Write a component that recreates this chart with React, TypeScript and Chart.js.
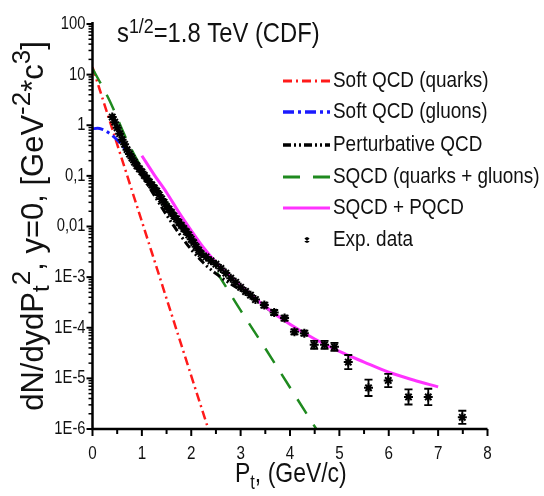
import React, { useEffect, useRef } from "react";
import { Chart, registerables } from "chart.js";
Chart.register(...registerables);

// ---- Data ----
const quarksPt = [0, 0.4, 0.8, 1.2, 1.6, 2.0, 2.4];
const quarksVal = [14.1, 0.85, 0.051, 3.1e-3, 1.86e-4, 1.12e-5, 6.8e-7];

const gluonsPt = [0, 0.1, 0.2, 0.3, 0.4, 0.5, 0.6, 0.8, 1.0, 1.2, 1.4, 1.6];
const gluonsVal = [0.85, 0.87, 0.83, 0.74, 0.63, 0.51, 0.4, 0.23, 0.126, 0.069, 0.038, 0.021];

const pqcdPt = [0.4, 0.6, 0.8, 1.0, 1.2, 1.4, 1.6, 1.8, 2.0, 2.25, 2.5, 2.75, 3.0, 3.3, 3.6];
const pqcdVal = [1.66, 0.6, 0.24, 0.105, 0.05, 0.024, 0.012, 6.3e-3, 3.5e-3, 1.9e-3, 1.17e-3, 7.9e-4, 5.6e-4, 3.5e-4, 2.2e-4];

const sqcdPt = [0, 0.34, 0.7, 1.0, 1.5, 2.0, 2.25, 2.5, 3.0, 3.5, 4.0, 4.6];
const sqcdVal = [13.2, 3.16, 0.5, 0.141, 0.03, 6.3e-3, 3.0e-3, 1.32e-3, 2.2e-4, 3.9e-5, 6.6e-6, 7.9e-7];

const sumPt = [1.0, 1.25, 1.5, 1.75, 2.0, 2.25, 2.5, 2.75, 3.0, 3.5, 4.0, 4.5, 5.0, 5.5, 6.0, 6.5, 7.0];
const sumVal = [0.25, 0.105, 0.047, 0.019, 8.3e-3, 3.8e-3, 1.95e-3, 1.12e-3, 6.8e-4, 2.6e-4, 1.17e-4, 6.0e-5, 3.4e-5, 2.1e-5, 1.32e-5, 9.3e-6, 6.8e-6];

const expPt = [
  0.4, 0.45, 0.5, 0.55, 0.6, 0.65, 0.7, 0.75, 0.8, 0.85, 0.9, 0.95, 1.0, 1.05, 1.1, 1.15, 1.2, 1.25,
  1.3, 1.35, 1.4, 1.45, 1.5, 1.55, 1.6, 1.65, 1.7, 1.75, 1.8, 1.85, 1.9, 1.95, 2.0, 2.05, 2.1, 2.15,
  2.2, 2.3, 2.4, 2.5, 2.6, 2.7, 2.8, 2.9, 3.0, 3.1, 3.2, 3.3, 3.48, 3.68, 3.89, 4.09, 4.29, 4.49,
  4.7, 4.9, 5.18, 5.59, 5.99, 6.4, 6.8, 7.49,
];
const expVal = [
  1.45, 1.15, 0.89, 0.68, 0.52, 0.42, 0.33, 0.27, 0.224, 0.186, 0.158, 0.138, 0.12, 0.102, 0.089, 0.076, 0.066, 0.058,
  0.05, 0.042, 0.035, 0.03, 0.025, 0.022, 0.019, 0.0162, 0.0141, 0.012, 0.0105, 0.0091, 0.0079, 0.0068, 0.0056, 0.0048, 0.004, 0.0034,
  0.0029, 0.0025, 0.0021, 0.0018, 0.00148, 0.0012, 0.00095, 0.00079, 0.00063, 0.00052, 0.00044, 0.00036, 2.8e-4, 2.0e-4, 1.55e-4, 8.3e-5, 7.8e-5, 4.6e-5,
  4.6e-5, 4.2e-5, 2.1e-5, 6.5e-6, 9.1e-6, 4.3e-6, 4.3e-6, 1.7e-6,
];
// multiplicative error factor (1 = no visible bar)
const expErr = [
  1, 1, 1, 1, 1, 1, 1, 1, 1, 1, 1, 1, 1, 1, 1, 1, 1, 1,
  1, 1, 1, 1, 1, 1, 1, 1, 1, 1, 1, 1, 1, 1, 1, 1, 1, 1,
  1, 1, 1, 1, 1, 1, 1, 1, 1, 1, 1, 1, 1.12, 1.12, 1.12, 1.12, 1.12, 1.2,
  1.2, 1.2, 1.38, 1.45, 1.35, 1.41, 1.45, 1.35,
];

const xTickValues = [0, 1, 2, 3, 4, 5, 6, 7, 8];
const xTickLabels = ["0", "1", "2", "3", "4", "5", "6", "7", "8"];
const yTickValues = [100, 10, 1, 0.1, 0.01, 1e-3, 1e-4, 1e-5, 1e-6];
const yTickLabels = ["100", "10", "1", "0,1", "0,01", "1E-3", "1E-4", "1E-5", "1E-6"];

const legendLabels = [
  "Soft QCD (quarks)",
  "Soft QCD (gluons)",
  "Perturbative QCD",
  "SQCD (quarks + gluons)",
  "SQCD + PQCD",
  "Exp. data",
];

const FAMILY = '"Liberation Sans", Arial, sans-serif';

const RED = "#ff1a1a";
const BLUE = "#1a1aff";
const BLACK = "#000000";
const GREEN = "#1f8a1f";
const PINK = "#ff33ff";

const DASH_RED = [9, 4, 2, 4];
const DASH_BLUE = [11, 4, 3, 4];
const DASH_BLACK = [8, 3, 2, 3, 2, 3];
const DASH_GREEN = [17, 13];

type Run = { t: string; s: number; dy: number };

function drawRuns(
  ctx: CanvasRenderingContext2D,
  runs: Run[],
  x: number,
  y: number,
  sx: number,
  align: "left" | "center" | "right"
) {
  let w = 0;
  const widths: number[] = [];
  for (const r of runs) {
    ctx.font = `${r.s}px ${FAMILY}`;
    const mw = ctx.measureText(r.t).width;
    widths.push(mw);
    w += mw;
  }
  const total = w * sx;
  const start = align === "left" ? x : align === "center" ? x - total / 2 : x - total;
  ctx.save();
  ctx.translate(start, y);
  ctx.scale(sx, 1);
  ctx.textAlign = "left";
  let cx = 0;
  runs.forEach((r, i) => {
    ctx.font = `${r.s}px ${FAMILY}`;
    ctx.fillText(r.t, cx, r.dy);
    cx += widths[i];
  });
  ctx.restore();
}

function pts(xs: number[], ys: number[]) {
  return xs.map((x, i) => ({ x, y: ys[i] }));
}

const decorPlugin = {
  id: "decor",
  afterDatasetsDraw(chart: any) {
    const ctx: CanvasRenderingContext2D = chart.ctx;
    const xs = chart.scales.x;
    const ys = chart.scales.y;
    // error bars
    ctx.save();
    ctx.strokeStyle = BLACK;
    ctx.lineWidth = 1.8;
    expPt.forEach((p, i) => {
      const f = expErr[i];
      if (f <= 1) return;
      const px = xs.getPixelForValue(p);
      const y1 = ys.getPixelForValue(expVal[i] * f);
      const y2 = ys.getPixelForValue(expVal[i] / f);
      ctx.beginPath();
      ctx.moveTo(px, y1);
      ctx.lineTo(px, y2);
      ctx.moveTo(px - 4, y1);
      ctx.lineTo(px + 4, y1);
      ctx.moveTo(px - 4, y2);
      ctx.lineTo(px + 4, y2);
      ctx.stroke();
    });
    ctx.restore();
  },
  afterDraw(chart: any) {
    const ctx: CanvasRenderingContext2D = chart.ctx;
    const xs = chart.scales.x;
    const ys = chart.scales.y;
    const { left, right, top, bottom } = chart.chartArea;
    ctx.save();
    ctx.strokeStyle = BLACK;
    ctx.fillStyle = BLACK;
    // axes
    ctx.lineWidth = 2.5;
    ctx.beginPath();
    ctx.moveTo(left, top - 2);
    ctx.lineTo(left, bottom);
    ctx.lineTo(right, bottom);
    ctx.stroke();
    // y ticks
    for (let e = -6; e <= 2; e++) {
      for (let k = 1; k <= 9; k++) {
        if (e === 2 && k > 1) break;
        const v = k * Math.pow(10, e);
        const py = ys.getPixelForValue(v);
        ctx.lineWidth = k === 1 ? 2 : 1.5;
        const len = k === 1 ? 6 : 4;
        ctx.beginPath();
        ctx.moveTo(left, py);
        ctx.lineTo(left - len, py);
        ctx.stroke();
      }
    }
    // x ticks
    for (let i = 0; i <= 16; i++) {
      const v = i * 0.5;
      const px = xs.getPixelForValue(v);
      ctx.lineWidth = 2;
      const len = i % 2 === 0 ? 7 : 5;
      ctx.beginPath();
      ctx.moveTo(px, bottom);
      ctx.lineTo(px, bottom + len);
      ctx.stroke();
    }
    // tick labels
    ctx.fillStyle = "#111";
    ctx.textBaseline = "middle";
    yTickValues.forEach((v, i) => {
      drawRuns(ctx, [{ t: yTickLabels[i], s: 18, dy: 0 }], left - 7, ys.getPixelForValue(v), 0.82, "right");
    });
    ctx.textBaseline = "alphabetic";
    xTickValues.forEach((v, i) => {
      drawRuns(ctx, [{ t: xTickLabels[i], s: 19, dy: 0 }], xs.getPixelForValue(v), 459, 0.8, "center");
    });
    // x title
    drawRuns(
      ctx,
      [
        { t: "P", s: 28, dy: 0 },
        { t: "t", s: 20, dy: 7 },
        { t: ", (GeV/c)", s: 28, dy: 0 },
      ],
      235,
      482,
      0.82,
      "left"
    );
    // y title (rotated)
    ctx.save();
    ctx.translate(43, 226);
    ctx.rotate(-Math.PI / 2);
    drawRuns(
      ctx,
      [
        { t: "dN/dydP", s: 31, dy: 0 },
        { t: "t", s: 24, dy: 6 },
        { t: "2", s: 26, dy: -13 },
        { t: ", y=0, [GeV", s: 31, dy: 0 },
        { t: "-2", s: 26, dy: -13 },
        { t: "*c", s: 31, dy: 0 },
        { t: "3", s: 26, dy: -13 },
        { t: "]", s: 31, dy: 0 },
      ],
      0,
      0,
      1,
      "center"
    );
    ctx.restore();
    // plot title
    drawRuns(
      ctx,
      [
        { t: "s", s: 28, dy: 0 },
        { t: "1/2", s: 21, dy: -9 },
        { t: "=1.8 TeV (CDF)", s: 28, dy: 0 },
      ],
      117,
      42,
      0.85,
      "left"
    );
    // legend
    const rows = [81, 112, 145, 177, 208, 240];
    const styles = [
      { c: RED, d: DASH_RED, w: 3 },
      { c: BLUE, d: DASH_BLUE, w: 3.5 },
      { c: BLACK, d: DASH_BLACK, w: 3.5 },
      { c: GREEN, d: DASH_GREEN, w: 3 },
      { c: PINK, d: [], w: 3 },
    ];
    styles.forEach((st, i) => {
      ctx.save();
      ctx.strokeStyle = st.c;
      ctx.lineWidth = st.w;
      ctx.setLineDash(st.d);
      ctx.beginPath();
      ctx.moveTo(283, rows[i]);
      ctx.lineTo(330, rows[i]);
      ctx.stroke();
      ctx.restore();
    });
    // exp data marker
    ctx.save();
    ctx.strokeStyle = BLACK;
    ctx.lineWidth = 1.5;
    ctx.beginPath();
    ctx.moveTo(307, rows[5] - 3);
    ctx.lineTo(307, rows[5] + 3);
    ctx.moveTo(305, rows[5] - 2);
    ctx.lineTo(309, rows[5] + 2);
    ctx.moveTo(309, rows[5] - 2);
    ctx.lineTo(305, rows[5] + 2);
    ctx.stroke();
    ctx.restore();
    ctx.fillStyle = "#111";
    ctx.textBaseline = "middle";
    legendLabels.forEach((lab, i) => {
      drawRuns(ctx, [{ t: lab, s: 22, dy: 0 }], 333, rows[i], 0.86, "left");
    });
    ctx.restore();
  },
};

export default function App() {
  const ref = useRef<HTMLCanvasElement | null>(null);
  useEffect(() => {
    document.body.style.margin = "0";
    const canvas = ref.current;
    if (!canvas) return;
    const lineDs = (label: string, xsA: number[], ysA: number[], color: string, dash: number[], w: number) => ({
      type: "line" as const,
      label,
      data: pts(xsA, ysA),
      borderColor: color,
      backgroundColor: color,
      borderWidth: w,
      borderDash: dash,
      pointRadius: 0,
      fill: false,
      cubicInterpolationMode: "monotone" as const,
    });
    const chart = new Chart(canvas, {
      type: "line",
      data: {
        datasets: [
          {
            type: "line",
            label: "Exp. data",
            data: pts(expPt, expVal),
            showLine: false,
            pointStyle: "star",
            pointRadius: 4.5,
            pointBorderWidth: 2,
            borderColor: BLACK,
            backgroundColor: BLACK,
          } as any,
          lineDs("SQCD + PQCD", sumPt, sumVal, PINK, [], 3),
          lineDs("Perturbative QCD", pqcdPt, pqcdVal, BLACK, DASH_BLACK, 3),
          lineDs("SQCD (quarks + gluons)", sqcdPt, sqcdVal, GREEN, DASH_GREEN, 2.5),
          lineDs("Soft QCD (gluons)", gluonsPt, gluonsVal, BLUE, DASH_BLUE, 3),
          lineDs("Soft QCD (quarks)", quarksPt, quarksVal, RED, DASH_RED, 2.5),
        ],
      },
      options: {
        responsive: false,
        animation: false,
        layout: { padding: { left: 92.5, right: 544 - 487.5, top: 24, bottom: 496 - 429 } },
        scales: {
          x: { type: "linear", min: 0, max: 8, display: false },
          y: { type: "logarithmic", min: 1e-6, max: 100, display: false },
        },
        plugins: { legend: { display: false }, tooltip: { enabled: false } },
      },
      plugins: [decorPlugin],
    });
    return () => chart.destroy();
  }, []);
  return (
    <div style={{ position: "absolute", left: 0, top: 0, width: 544, height: 496, background: "#fff" }}>
      <canvas ref={ref} width={544} height={496} style={{ width: 544, height: 496, display: "block" }} />
    </div>
  );
}
